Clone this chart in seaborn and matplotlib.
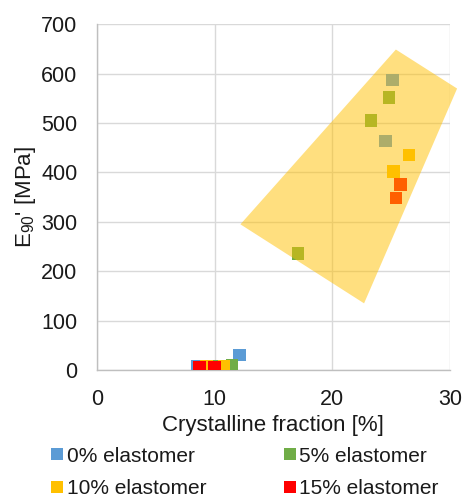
import numpy as np
import pandas as pd
import matplotlib
matplotlib.use("Agg")
import matplotlib.pyplot as plt
from matplotlib.patches import Polygon
from matplotlib.lines import Line2D
import seaborn as sns

# Crystalline fraction [%] and storage modulus E90' [MPa] per elastomer content
groups = ["0% elastomer", "5% elastomer", "10% elastomer", "15% elastomer"]
cryst_0 = [8.5, 12.1, 25.1, 24.5]
mod_0 = [7, 30, 587, 464]
cryst_5 = [9.8, 11.5, 17.1, 24.8, 23.3]
mod_5 = [8, 10, 236, 552, 505]
cryst_10 = [9.3, 10.8, 25.2, 26.5]
mod_10 = [7, 7, 402, 435]
cryst_15 = [8.7, 10.0, 25.8, 25.4]
mod_15 = [6, 6, 376, 348]

# Highlighted region (corner points in data units)
region_x = [25.4, 30.6, 22.7, 12.2]
region_y = [649, 570, 135, 295]

colors = ["#5B9BD5", "#70AD47", "#FFC000", "#FF0000"]

df = pd.concat([
    pd.DataFrame({"x": cryst_0, "y": mod_0, "group": groups[0]}),
    pd.DataFrame({"x": cryst_5, "y": mod_5, "group": groups[1]}),
    pd.DataFrame({"x": cryst_10, "y": mod_10, "group": groups[2]}),
    pd.DataFrame({"x": cryst_15, "y": mod_15, "group": groups[3]}),
], ignore_index=True)

sns.set_theme(style="white")
plt.rcParams["font.family"] = ["Liberation Sans", "DejaVu Sans"]
plt.rcParams["mathtext.default"] = "regular"

fig = plt.figure(figsize=(4.63, 4.97), dpi=100)
ax = fig.add_axes([0.209, 0.2555, 0.763, 0.6955])

sns.scatterplot(data=df, x="x", y="y", hue="group", hue_order=groups,
                palette=colors, marker="s", s=82, linewidth=0,
                legend=False, ax=ax, zorder=3)

ax.add_patch(Polygon(list(zip(region_x, region_y)), closed=True,
                     facecolor="#FFC000", alpha=0.5, edgecolor="none",
                     zorder=4, clip_on=False))

ax.set_xlim(0, 30)
ax.set_ylim(0, 700)
ax.set_xticks([0, 10, 20, 30])
ax.set_yticks(range(0, 701, 100))
ax.grid(True, color="#D9D9D9", linewidth=1)
ax.set_axisbelow(True)
for side in ["top", "right"]:
    ax.spines[side].set_visible(False)
for side in ["left", "bottom"]:
    ax.spines[side].set_color("#BFBFBF")
    ax.spines[side].set_linewidth(1)
ax.tick_params(axis="both", length=0, labelsize=15.5, colors="#1a1a1a")
ax.tick_params(axis="x", pad=14)
ax.tick_params(axis="y", pad=14)

ax.set_xlabel("Crystalline fraction [%]", fontsize=16, color="#1a1a1a", labelpad=3)
ax.set_ylabel("E$_{90}$' [MPa]", fontsize=16, color="#1a1a1a", labelpad=2)

# legend rows: 0% / 5% on top, 10% / 15% below (columns fill first)
order = [0, 2, 1, 3]
handles = [Line2D([], [], marker="s", linestyle="none", markersize=8.5,
                  markerfacecolor=colors[i], markeredgewidth=0, label=groups[i])
           for i in order]
fig.legend(handles=handles, loc="lower left", bbox_to_anchor=(0.071, -0.04),
           ncol=2, frameon=False, fontsize=15, handlelength=0.55,
           handletextpad=0.2, columnspacing=3.7, labelspacing=0.65,
           labelcolor="#1a1a1a")

fig.savefig("out.png", dpi=100)
